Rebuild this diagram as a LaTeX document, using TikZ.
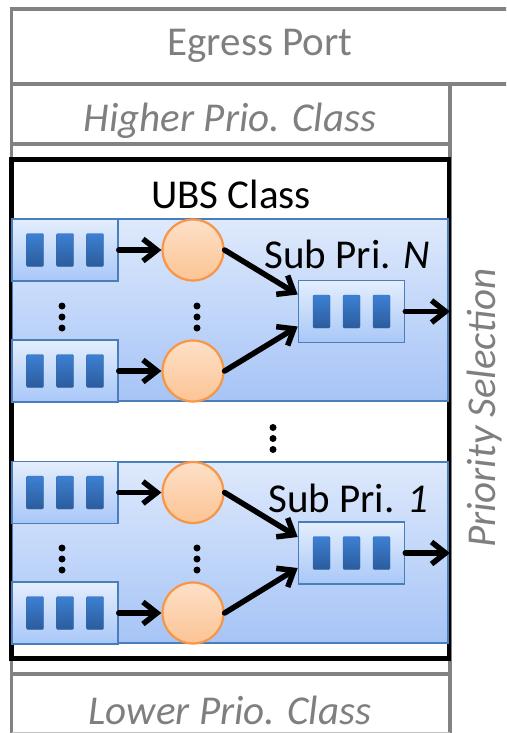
\documentclass[tikz,border=0pt]{standalone}
\usepackage{fontspec}
\setmainfont{Carlito}
\usetikzlibrary{arrows.meta}
\definecolor{gline}{HTML}{828282}
\definecolor{gtext}{HTML}{7F7F7F}
\definecolor{bborder}{HTML}{4A7EBB}
\definecolor{grptop}{HTML}{DEE9FC}
\definecolor{grpbot}{HTML}{A6C4F6}
\definecolor{qtop}{HTML}{E4EEFD}
\definecolor{qbot}{HTML}{A8C7F8}
\definecolor{bartop}{HTML}{3D80D3}
\definecolor{barbot}{HTML}{2B5C9C}
\definecolor{bardraw}{HTML}{3569AE}
\definecolor{ctop}{HTML}{FDE0C8}
\definecolor{cbot}{HTML}{FCC494}
\definecolor{orng}{HTML}{F79646}
\tikzset{
  gframe/.style={draw=gline, line width=3.8pt},
  ubsbox/.style={draw=black, line width=4.8pt},
  grp/.style={draw=bborder, line width=1.6pt, top color=grptop, bottom color=grpbot},
  qbox/.style={draw=bborder, line width=1.6pt, top color=qtop, bottom color=qbot,
    minimum width=106pt, minimum height=62pt, inner sep=0pt},
  qbar/.style={draw=bardraw, line width=0.4pt, top color=bartop, bottom color=barbot,
    minimum width=17pt, minimum height=33pt, inner sep=0pt, rounded corners=1.2pt},
  sched/.style={circle, draw=orng, line width=2.2pt, top color=ctop, bottom color=cbot,
    minimum size=61pt, inner sep=0pt},
  flow/.style={-{Straight Barb[length=14pt,width=22pt]}, line width=5.5pt, line cap=round},
  dotn/.style={circle, fill=black, minimum size=7pt, inner sep=0pt},
  lbl/.style={font=\fontsize{41}{48}\selectfont, inner sep=0pt},
  glbl/.style={lbl, text=gtext},
}
\newcommand\mkqueue[3]{%
  \node[qbox] (#1) at (#2,#3) {};
  \node[qbar] (#1-a) at ([xshift=-30pt]#1.center) {};
  \node[qbar] (#1-b) at (#1.center) {};
  \node[qbar] (#1-c) at ([xshift=30pt]#1.center) {};
}
\newcommand\mkdots[3]{%
  \node[dotn] (#1-a) at (#2,#3-11) {};
  \node[dotn] (#1-b) at (#2,#3) {};
  \node[dotn] (#1-c) at (#2,#3+11) {};
}
\begin{document}
\begin{tikzpicture}[x=1pt,y=-1pt]
\useasboundingbox (0,0) rectangle (506,733);
\clip (0,0) rectangle (506,733);
% gray frame
\draw[gframe] (520,9) -- (11.5,9) -- (11.5,745);
\draw[gframe] (11.5,84) -- (520,84);
\draw[gframe] (11.5,144) -- (450,144);
\draw[gframe] (11.5,674) -- (450,674);
\draw[gframe] (450,84) -- (450,745);
\draw[draw=gline!50, line width=2pt] (11.5,732.5) -- (450,732.5);
\node[lbl, text=gtext] (egress) at (260,46) {Egress Port};
\node[glbl] (higher) at (230,121) {\itshape Higher Prio. Class};
\node[glbl] (lower) at (230,710) {\itshape Lower Prio. Class};
\node[glbl, rotate=90] (psel) at (485,408) {\itshape Priority Selection};
% UBS class box
\draw[ubsbox] (11.5,159.5) rectangle (449,658.5);
\node[lbl] (ubs) at (231,194) {UBS Class};
% groups
\draw[grp] (12.5,219) rectangle (448,401);
\draw[grp] (12.5,462) rectangle (448,643);
% upper group
\mkqueue{qa}{65}{250}
\mkqueue{qb}{65}{371}
\node[sched] (ca) at (193,250) {};
\node[sched] (cb) at (193,371) {};
\mkqueue{oq1}{351.5}{311.5}
\node[lbl, anchor=base] (subn) at (347,268) {Sub Pri. \itshape N};
\mkdots{da}{62}{317}
\mkdots{db}{197}{317}
\draw[flow] (qa) -- (ca);
\draw[flow] (qb) -- (cb);
\draw[flow] (ca.east) -- ([yshift=17pt]oq1.west);
\draw[flow] (cb.east) -- ([yshift=-15pt]oq1.west);
\coordinate (out1) at (450,311.5);
\draw[flow] (oq1.east) -- (out1);
% middle dots
\mkdots{dm}{273}{438.5}
% lower group
\mkqueue{qc}{65}{492.5}
\mkqueue{qd}{65}{613}
\node[sched] (cc) at (193,492.5) {};
\node[sched] (cd) at (193,613) {};
\mkqueue{oq2}{351.5}{553}
\node[lbl, anchor=base] (sub1) at (348,512) {Sub Pri. \itshape 1};
\mkdots{dc}{62}{559}
\mkdots{dd}{197}{559}
\draw[flow] (qc) -- (cc);
\draw[flow] (qd) -- (cd);
\draw[flow] (cc.east) -- ([yshift=16pt]oq2.west);
\draw[flow] (cd.east) -- ([yshift=-15pt]oq2.west);
\coordinate (out2) at (450,553);
\draw[flow] (oq2.east) -- (out2);
\end{tikzpicture}
\end{document}
